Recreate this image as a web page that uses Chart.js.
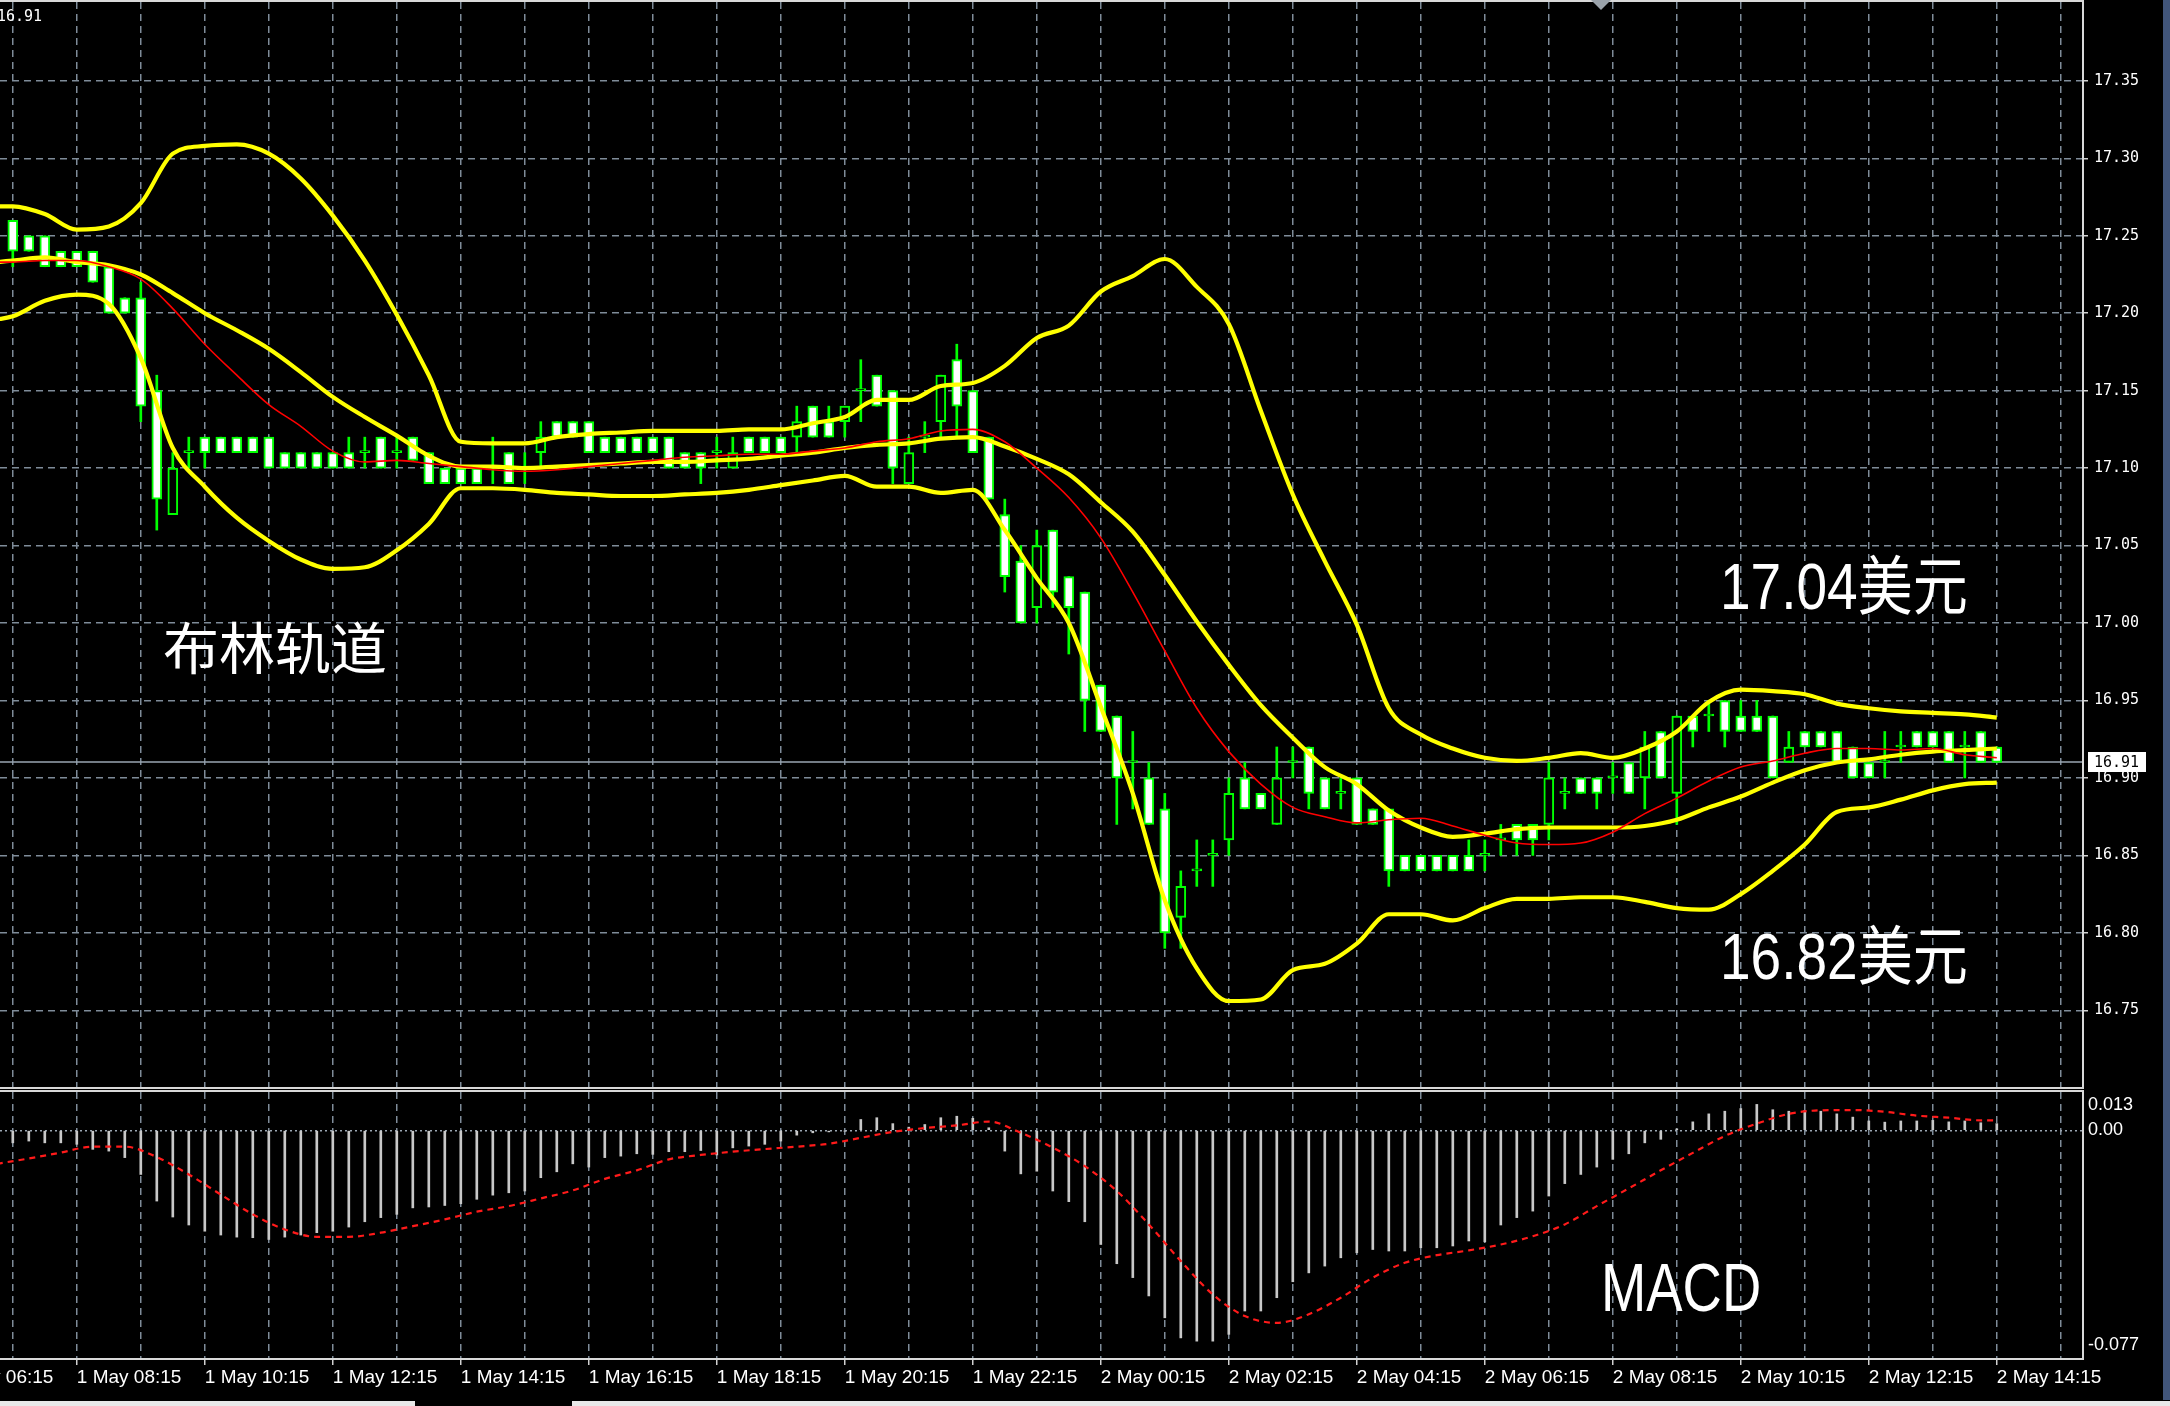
<!DOCTYPE html>
<html lang="zh">
<head>
<meta charset="UTF-8" />
<title>白银 M15 布林轨道 / MACD</title>
<script src="https://cdn.jsdelivr.net/npm/chart.js"></script>
<style>
  html, body { margin: 0; padding: 0; background: #000; }
  body { width: 2170px; height: 1406px; position: relative; overflow: hidden; }
  canvas { position: absolute; left: 0; }
  #priceChart { top: 0; }
  #macdChart { top: 1088px; }
  .note { position: absolute; color: #fff; white-space: nowrap; line-height: 1; transform-origin: left top; }
  .cjk { font-family: "Noto Sans CJK SC", sans-serif; font-size: 56px; }
  .num { font-family: "Liberation Sans", "Noto Sans CJK SC", sans-serif; font-size: 64px; transform: scaleX(0.86); }
  .strip { position: absolute; background: #41557a; left: 2163px; top: 0; width: 7px; height: 1400px; }
  .tabbar { position: absolute; background: #e8e8e8; top: 1401px; height: 5px; }
</style>
</head>
<body>
<canvas id="priceChart" width="2170" height="1090"></canvas>
<canvas id="macdChart" width="2170" height="318"></canvas>
<div class="strip"></div>
<div class="tabbar" style="left:0;width:415px"></div>
<div class="tabbar" style="left:572px;width:1598px"></div>
<div class="note cjk" style="left:163px;top:617px">布林轨道</div>
<div class="note num" style="left:1720px;top:555px">17.04美元</div>
<div class="note num" style="left:1720px;top:925px">16.82美元</div>
<div class="note num" style="left:1601px;top:1253px;font-size:68px;transform:scaleX(0.8)">MACD</div>
<script>
// bar 0 = 1 May 07:15, one bar = 15 minutes, last bar (124) = 2 May 14:15
const opens = [17.26,17.25,17.25,17.24,17.24,17.24,17.23,17.21,17.21,17.15,
  17.07,17.11,17.12,17.12,17.12,17.12,17.12,17.11,17.11,17.11,
  17.11,17.11,17.11,17.12,17.11,17.12,17.11,17.10,17.10,17.10,
  17.10,17.11,17.10,17.11,17.13,17.13,17.13,17.12,17.12,17.12,
  17.12,17.12,17.11,17.11,17.11,17.10,17.12,17.12,17.12,17.12,
  17.14,17.13,17.13,17.15,17.16,17.15,17.09,17.12,17.13,17.17,
  17.15,17.12,17.07,17.04,17.01,17.06,17.03,17.02,16.96,16.94,
  16.91,16.90,16.88,16.81,16.84,16.85,16.86,16.90,16.89,16.87,
  16.91,16.92,16.90,16.89,16.90,16.88,16.88,16.85,16.85,16.85,
  16.85,16.85,16.85,16.86,16.87,16.87,16.87,16.89,16.90,16.90,
  16.90,16.91,16.90,16.93,16.89,16.94,16.94,16.95,16.94,16.94,
  16.94,16.91,16.93,16.93,16.93,16.92,16.91,16.91,16.92,16.93,
  16.93,16.93,16.92,16.93,16.92]
const highs = [17.26,17.25,17.25,17.24,17.24,17.24,17.23,17.21,17.22,17.16,
  17.11,17.12,17.12,17.12,17.12,17.12,17.12,17.11,17.11,17.11,
  17.11,17.12,17.12,17.12,17.12,17.12,17.11,17.10,17.10,17.10,
  17.12,17.11,17.11,17.13,17.13,17.13,17.13,17.12,17.12,17.12,
  17.12,17.12,17.11,17.11,17.12,17.12,17.12,17.12,17.12,17.14,
  17.14,17.14,17.14,17.17,17.16,17.15,17.12,17.13,17.16,17.18,
  17.15,17.12,17.08,17.05,17.06,17.06,17.03,17.02,16.96,16.94,
  16.93,16.91,16.89,16.84,16.86,16.86,16.90,16.91,16.89,16.92,
  16.92,16.92,16.90,16.90,16.90,16.88,16.88,16.85,16.85,16.85,
  16.85,16.86,16.86,16.87,16.87,16.87,16.91,16.90,16.90,16.90,
  16.91,16.91,16.93,16.93,16.94,16.94,16.95,16.95,16.95,16.95,
  16.94,16.93,16.93,16.93,16.93,16.92,16.91,16.93,16.93,16.93,
  16.93,16.93,16.93,16.93,16.92]
const lows = [17.23,17.24,17.23,17.23,17.23,17.22,17.20,17.20,17.13,17.06,
  17.07,17.10,17.10,17.11,17.11,17.11,17.10,17.10,17.10,17.10,
  17.10,17.10,17.10,17.10,17.10,17.105,17.09,17.09,17.09,17.09,
  17.09,17.09,17.09,17.10,17.12,17.12,17.11,17.11,17.11,17.11,
  17.11,17.10,17.10,17.09,17.10,17.10,17.11,17.11,17.11,17.11,
  17.12,17.12,17.12,17.13,17.14,17.09,17.09,17.11,17.12,17.12,
  17.11,17.08,17.02,17.00,17.00,17.01,16.98,16.93,16.93,16.87,
  16.88,16.87,16.79,16.79,16.83,16.83,16.85,16.88,16.88,16.87,
  16.90,16.88,16.88,16.88,16.87,16.87,16.83,16.84,16.84,16.84,
  16.84,16.84,16.84,16.85,16.85,16.85,16.86,16.88,16.89,16.88,
  16.89,16.89,16.88,16.90,16.87,16.92,16.93,16.92,16.93,16.93,
  16.90,16.91,16.92,16.92,16.91,16.90,16.90,16.90,16.91,16.92,
  16.92,16.91,16.90,16.91,16.91]
const closes = [17.24,17.24,17.23,17.23,17.23,17.22,17.20,17.20,17.14,17.08,
  17.10,17.11,17.11,17.11,17.11,17.11,17.10,17.10,17.10,17.10,
  17.10,17.10,17.11,17.10,17.11,17.105,17.09,17.09,17.09,17.09,
  17.10,17.09,17.10,17.12,17.12,17.12,17.11,17.11,17.11,17.11,
  17.11,17.10,17.10,17.10,17.11,17.11,17.11,17.11,17.11,17.13,
  17.12,17.12,17.14,17.15,17.14,17.10,17.11,17.12,17.16,17.14,
  17.11,17.08,17.03,17.00,17.05,17.02,17.01,16.95,16.93,16.90,
  16.91,16.87,16.80,16.83,16.84,16.85,16.89,16.88,16.88,16.90,
  16.91,16.89,16.88,16.89,16.87,16.87,16.84,16.84,16.84,16.84,
  16.84,16.84,16.85,16.86,16.86,16.86,16.90,16.89,16.89,16.89,
  16.90,16.89,16.92,16.90,16.94,16.93,16.94,16.93,16.93,16.93,
  16.90,16.92,16.92,16.92,16.91,16.90,16.90,16.91,16.92,16.92,
  16.92,16.91,16.92,16.91,16.91]

// bollinger bands and red moving average, read every second bar
const bandBars = [-1,0,2,4,6,8,10,12,14,16,18,20,22,24,26,28,30,32,34,36,38,40,42,44,46,48,50,52,54,56,58,60,
  62,64,66,68,70,72,74,76,78,80,82,84,86,88,90,92,94,96,98,100,102,104,106,108,110,112,114,116,118,120,122,124]
const bandUpper = [17.269,17.269,17.264,17.254,17.256,17.271,17.303,17.308,17.309,17.303,17.287,17.263,17.234,17.199,17.160,17.117,
  17.116,17.116,17.120,17.122,17.123,17.124,17.124,17.124,17.125,17.125,17.129,17.133,17.144,17.144,17.153,17.155,
  17.166,17.184,17.192,17.214,17.224,17.235,17.217,17.193,17.137,17.083,17.040,16.999,16.945,16.928,16.919,16.913,
  16.911,16.913,16.916,16.913,16.919,16.930,16.949,16.957,16.956,16.954,16.948,16.945,16.943,16.942,16.941,16.939]
const bandMiddle = [17.233,17.234,17.236,17.233,17.231,17.225,17.213,17.200,17.189,17.177,17.162,17.146,17.133,17.121,17.108,17.101,
  17.101,17.100,17.101,17.102,17.103,17.104,17.104,17.105,17.106,17.108,17.110,17.113,17.115,17.116,17.119,17.120,
  17.114,17.106,17.096,17.078,17.059,17.031,17.001,16.973,16.947,16.926,16.907,16.896,16.879,16.868,16.862,16.864,
  16.867,16.868,16.868,16.868,16.869,16.873,16.881,16.888,16.897,16.905,16.910,16.912,16.915,16.917,16.918,16.919]
const bandLower = [17.196,17.198,17.208,17.212,17.206,17.171,17.113,17.088,17.068,17.053,17.041,17.035,17.036,17.047,17.064,17.087,
  17.087,17.086,17.084,17.083,17.082,17.082,17.083,17.084,17.086,17.089,17.092,17.095,17.088,17.088,17.084,17.086,
  17.060,17.029,17.000,16.946,16.890,16.821,16.777,16.756,16.757,16.776,16.780,16.793,16.812,16.812,16.808,16.816,
  16.822,16.822,16.823,16.823,16.820,16.816,16.815,16.825,16.840,16.857,16.878,16.881,16.886,16.892,16.896,16.897]
const maRed = [17.233,17.233,17.234,17.234,17.230,17.222,17.203,17.180,17.160,17.141,17.127,17.111,17.104,17.105,17.103,17.101,
  17.099,17.098,17.099,17.101,17.103,17.105,17.107,17.108,17.109,17.109,17.111,17.113,17.117,17.119,17.124,17.125,
  17.117,17.100,17.081,17.055,17.020,16.982,16.945,16.917,16.896,16.881,16.875,16.871,16.873,16.874,16.869,16.863,
  16.858,16.857,16.858,16.865,16.877,16.887,16.898,16.907,16.911,16.916,16.919,16.919,16.918,16.919,16.915,16.913]

// MACD main line (histogram), one value per bar
const macdMain = [-0.0042,-0.0036,-0.0042,-0.0042,-0.0047,-0.0064,-0.0070,-0.0092,-0.0149,-0.0239,
  -0.0293,-0.0320,-0.0341,-0.0354,-0.0361,-0.0363,-0.0369,-0.0361,-0.0354,-0.0346,
  -0.0341,-0.0327,-0.0309,-0.0295,-0.0284,-0.0262,-0.0259,-0.0254,-0.0248,-0.0233,
  -0.0219,-0.0211,-0.0205,-0.0160,-0.0140,-0.0113,-0.0124,-0.0092,-0.0087,-0.0079,
  -0.0081,-0.0072,-0.0072,-0.0068,-0.0083,-0.0059,-0.0053,-0.0047,-0.0036,-0.0016,
  -0.0008,-0.0005,-0.0002,0.0037,0.0043,0.0023,0.0011,0.0020,0.0043,0.0048,
  0.0041,0.0009,-0.0070,-0.0147,-0.0138,-0.0205,-0.0241,-0.0309,-0.0386,-0.0451,
  -0.0498,-0.0560,-0.0634,-0.0702,-0.0713,-0.0713,-0.0690,-0.0611,-0.0611,-0.0566,
  -0.0512,-0.0482,-0.0459,-0.0431,-0.0414,-0.0403,-0.0408,-0.0408,-0.0397,-0.0397,
  -0.0391,-0.0374,-0.0377,-0.0320,-0.0295,-0.0273,-0.0222,-0.0180,-0.0149,-0.0124,
  -0.0098,-0.0079,-0.0042,-0.0030,0.0005,0.0029,0.0056,0.0065,0.0074,0.0088,
  0.0070,0.0065,0.0068,0.0065,0.0056,0.0045,0.0032,0.0028,0.0032,0.0032,
  0.0034,0.0029,0.0032,0.0026,0.0023]
// MACD signal line, read every second bar
const signalBars = [-1,1,3,5,7,9,11,13,15,17,19,21,23,25,27,29,31,33,35,37,39,41,43,45,47,49,51,53,55,57,59,61,
  63,65,67,69,71,73,75,77,79,81,83,85,87,89,91,93,95,97,99,101,103,105,107,109,111,113,115,117,119,121,123,124]
const macdSignal = [-0.0113,-0.0095,-0.0075,-0.0055,-0.0055,-0.0090,-0.0149,-0.0217,-0.0284,-0.0335,-0.0360,-0.0360,-0.0346,-0.0324,-0.0301,-0.0275,
  -0.0256,-0.0230,-0.0203,-0.0164,-0.0135,-0.0098,-0.0083,-0.0072,-0.0063,-0.0055,-0.0045,-0.0025,-0.0005,0.0008,0.0017,0.0030,
  -0.0008,-0.0058,-0.0121,-0.0205,-0.0318,-0.0442,-0.0555,-0.0628,-0.0651,-0.0622,-0.0566,-0.0498,-0.0448,-0.0422,-0.0406,-0.0386,
  -0.0358,-0.0318,-0.0256,-0.0196,-0.0135,-0.0076,-0.0019,0.0023,0.0056,0.0068,0.0069,0.0063,0.0050,0.0043,0.0034,0.0034]

const priceTicks = [16.75,16.80,16.85,16.90,16.95,17.00,17.05,17.10,17.15,17.20,17.25,17.30,17.35]
// time labels every 8 bars, first one sits at bar -4
const timeLabels = ['1 May 06:15','1 May 08:15','1 May 10:15','1 May 12:15','1 May 14:15','1 May 16:15',
  '1 May 18:15','1 May 20:15','1 May 22:15','2 May 00:15','2 May 02:15','2 May 04:15','2 May 06:15',
  '2 May 08:15','2 May 10:15','2 May 12:15','2 May 14:15']
const lastPrice = 16.91
const macdTicks = [0.013, 0.00, -0.077]

const xMin = -0.8, xMax = 129.325
const priceMin = 16.7005, priceMax = 17.4009
const gridColor = '#7f8c99'
const gridBars = []
for (let b = 0; b <= 128; b += 4) gridBars.push(b)
const bars = opens.map((o, i) => i)

Chart.defaults.animation = false
Chart.defaults.events = []
Chart.defaults.plugins.legend.display = false
Chart.defaults.plugins.tooltip.enabled = false

// no extra label padding round the plot area
function noPad(s) {
  s.paddingLeft = 0
  s.paddingRight = 0
  s.paddingTop = 0
  s.paddingBottom = 0
}

const frame = {
  id: 'frame',
  afterDraw(chart) {
    const { ctx, chartArea: a } = chart
    ctx.save()
    ctx.strokeStyle = '#d8d8d8'
    ctx.lineWidth = 2
    ctx.beginPath()
    ctx.moveTo(0, a.top - 1)
    ctx.lineTo(a.right + 1, a.top - 1)
    ctx.lineTo(a.right + 1, a.bottom + 1)
    ctx.lineTo(0, a.bottom + 1)
    ctx.stroke()
    ctx.restore()
  }
}

const priceExtras = {
  id: 'priceExtras',
  beforeDatasetsDraw(chart) {
    const { ctx, chartArea: a, scales: { y } } = chart
    const py = Math.round(y.getPixelForValue(lastPrice))
    ctx.save()
    ctx.strokeStyle = '#9aa6b2'
    ctx.lineWidth = 1.5
    ctx.beginPath()
    ctx.moveTo(a.left, py)
    ctx.lineTo(a.right, py)
    ctx.stroke()
    ctx.restore()
  },
  afterDraw(chart) {
    const { ctx, chartArea: a, scales: { y } } = chart
    const py = Math.round(y.getPixelForValue(lastPrice))
    ctx.save()
    ctx.fillStyle = '#ffffff'
    ctx.fillRect(a.right + 6, py - 10, 58, 20)
    ctx.fillStyle = '#000000'
    ctx.font = '15px "DejaVu Sans Mono"'
    ctx.textBaseline = 'middle'
    ctx.fillText(lastPrice.toFixed(2), a.right + 12, py + 1)
    ctx.fillStyle = '#ffffff'
    ctx.textBaseline = 'top'
    ctx.fillText(lastPrice.toFixed(2), -3, 10)
    ctx.fillStyle = '#9aa2aa'
    ctx.beginPath()
    ctx.moveTo(1591, 0)
    ctx.lineTo(1611, 0)
    ctx.lineTo(1601, 10)
    ctx.closePath()
    ctx.fill()
    ctx.restore()
  }
}

const macdExtras = {
  id: 'macdExtras',
  afterDraw(chart) {
    const { ctx, chartArea: a, scales: { x, y } } = chart
    ctx.save()
    ctx.fillStyle = '#ffffff'
    ctx.font = '18px "Liberation Sans"'
    ctx.textBaseline = 'middle'
    const offs = [13, 0, -13]
    macdTicks.forEach((v, k) => {
      const txt = v === 0 ? '0.00' : v.toFixed(3)
      ctx.fillText(txt, a.right + 6, y.getPixelForValue(v) + offs[k])
    })
    // first time label is cut by the left edge
    ctx.font = '19px "Liberation Sans"'
    ctx.fillText(timeLabels[0], x.getPixelForValue(-4), a.bottom + 8 + 11.4)
    ctx.restore()
  }
}

function toPoints(xs, ys) {
  return xs.map((b, k) => ({ x: b, y: ys[k] }))
}

const bandLine = (data, color, width, order) => ({
  type: 'line',
  data: data,
  borderColor: color,
  borderWidth: width,
  pointRadius: 0,
  cubicInterpolationMode: 'monotone',
  order: order
})

new Chart(document.getElementById('priceChart'), {
  type: 'line',
  data: {
    datasets: [
      bandLine(toPoints(bandBars, maRed), '#ff0000', 1.6, 1),
      bandLine(toPoints(bandBars, bandUpper), '#ffff00', 4.2, 2),
      bandLine(toPoints(bandBars, bandMiddle), '#ffff00', 4.2, 2),
      bandLine(toPoints(bandBars, bandLower), '#ffff00', 4.2, 2),
      {
        type: 'bar',
        data: bars.map(i => ({ x: i, y: [Math.min(opens[i], closes[i]), Math.max(opens[i], closes[i])] })),
        backgroundColor: bars.map(i => (closes[i] < opens[i] ? '#ffffff' : '#000000')),
        borderColor: '#00ff00',
        borderWidth: 2,
        borderSkipped: false,
        barThickness: 10,
        minBarLength: 2,
        grouped: false,
        order: 3
      },
      {
        type: 'bar',
        data: bars.map(i => ({ x: i, y: [lows[i], highs[i]] })),
        backgroundColor: '#00ff00',
        barThickness: 2,
        grouped: false,
        order: 4
      }
    ]
  },
  options: {
    responsive: false,
    layout: { padding: { top: 2, bottom: 3, left: 0, right: 0 }, autoPadding: false },
    scales: {
      x: {
        type: 'linear',
        min: xMin,
        max: xMax,
        offset: false,
        afterBuildTicks: s => { s.ticks = gridBars.map(v => ({ value: v })) },
        afterFit: s => { s.height = 0; noPad(s) },
        ticks: { display: false },
        grid: { color: gridColor, lineWidth: 1.5, drawTicks: false, offset: false },
        border: { display: false, dash: [7, 5] }
      },
      y: {
        type: 'linear',
        position: 'right',
        min: priceMin,
        max: priceMax,
        afterBuildTicks: s => { s.ticks = priceTicks.map(v => ({ value: v })) },
        afterFit: s => { s.width = 88; noPad(s) },
        ticks: {
          color: '#ffffff',
          padding: 6,
          font: { family: 'DejaVu Sans Mono', size: 15 },
          callback: v => v.toFixed(2)
        },
        grid: { color: gridColor, lineWidth: 1.5, tickLength: 6, tickColor: '#d0d0d0', tickWidth: 1.5 },
        border: { display: false, dash: [7, 5] }
      }
    }
  },
  plugins: [frame, priceExtras]
})

new Chart(document.getElementById('macdChart'), {
  type: 'line',
  data: {
    datasets: [
      {
        type: 'line',
        data: toPoints(signalBars, macdSignal),
        borderColor: '#ff1a1a',
        borderWidth: 2.2,
        borderDash: [6, 5],
        pointRadius: 0,
        cubicInterpolationMode: 'monotone',
        order: 1
      },
      {
        type: 'bar',
        data: bars.map(i => ({ x: i, y: macdMain[i] })),
        backgroundColor: '#c8c8c8',
        barThickness: 2,
        grouped: false,
        order: 2
      }
    ]
  },
  options: {
    responsive: false,
    layout: { padding: { top: 4, bottom: 8, left: 0, right: 0 }, autoPadding: false },
    scales: {
      x: {
        type: 'linear',
        min: xMin,
        max: xMax,
        offset: false,
        afterBuildTicks: s => { s.ticks = gridBars.map(v => ({ value: v })) },
        afterFit: s => { s.height = 40; noPad(s) },
        ticks: {
          autoSkip: false,
          maxRotation: 0,
          align: 'start',
          padding: 1,
          color: '#ffffff',
          font: { family: 'Liberation Sans', size: 19 },
          callback: v => {
            const k = (v + 4) / 8
            return Number.isInteger(k) ? timeLabels[k] : ''
          }
        },
        grid: {
          color: gridColor,
          lineWidth: 1.5,
          tickLength: 7,
          tickWidth: 1.5,
          offset: false,
          tickColor: c => (Number.isInteger((c.tick.value + 4) / 8) ? '#d0d0d0' : 'rgba(0,0,0,0)')
        },
        border: { display: false, dash: [7, 5] }
      },
      y: {
        type: 'linear',
        position: 'right',
        min: -0.077,
        max: 0.013,
        afterBuildTicks: s => { s.ticks = [{ value: 0 }] },
        afterFit: s => { s.width = 88; noPad(s) },
        ticks: { display: false },
        grid: { color: '#9aa6b2', lineWidth: 1.5, drawTicks: false },
        border: { display: false, dash: [2, 3] }
      }
    }
  },
  plugins: [frame, macdExtras]
})
</script>
</body>
</html>
